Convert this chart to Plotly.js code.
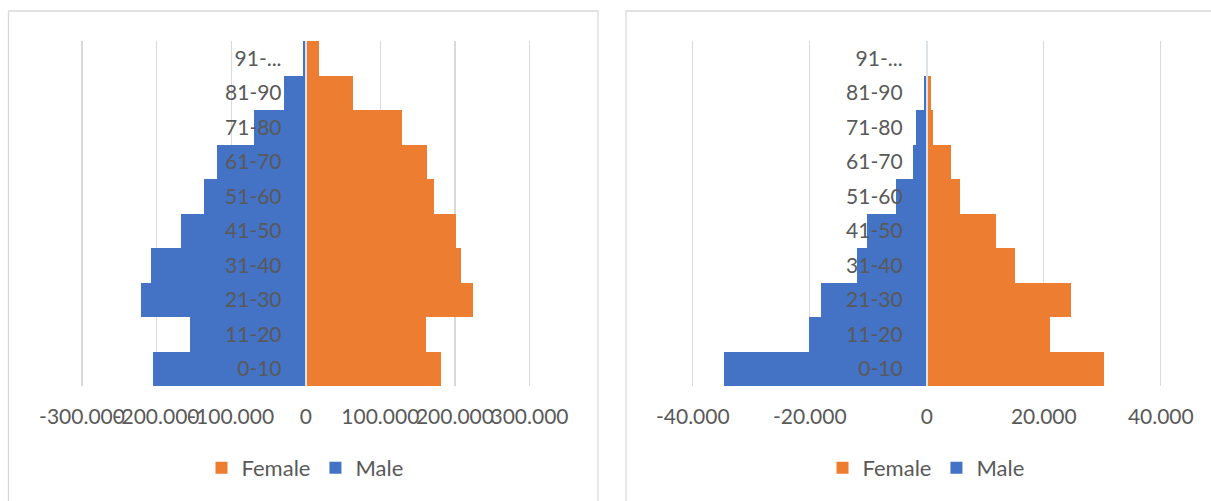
<!DOCTYPE html>
<html>
<head>
<meta charset="utf-8">
<script src="https://cdn.plot.ly/plotly-3.0.1.min.js"></script>
<style>
  html, body { margin: 0; padding: 0; background: #ffffff; }
  #chart { width: 1211px; height: 501px; }
</style>
</head>
<body>
<div id="chart"></div>
<script>
// Age groups, bottom to top
const ageGroups = ['0-10', '11-20', '21-30', '31-40', '41-50', '51-60', '61-70', '71-80', '81-90', '91-...'];

// Left pyramid: population per age group
const femaleLeft = [181500, 161500, 224500, 208000, 201500, 171500, 162500, 129000, 63500, 17400];
const maleLeft   = [204500, 155500, 221000, 207500, 167500, 136000, 119500, 70000, 28700, 3200];

// Right pyramid: population per age group
const femaleRight = [30300, 21000, 24600, 15100, 11900, 5600, 4200, 1000, 700, 0];
const maleRight   = [34600, 20100, 18000, 12000, 10300, 5300, 2400, 1800, 400, 0];

// Axis ticks (dot as thousands separator)
const leftTickVals  = [-300000, -200000, -100000, 0, 100000, 200000, 300000];
const leftTickText  = ['-300.000', '-200.000', '-100.000', '0', '100.000', '200.000', '300.000'];
const rightTickVals = [-40000, -20000, 0, 20000, 40000];
const rightTickText = ['-40.000', '-20.000', '0', '20.000', '40.000'];

const FEMALE_COLOR = '#ED7D31';
const MALE_COLOR = '#4472C4';
const TEXT_COLOR = '#595959';
const GRID_COLOR = '#d9d9d9';
const FONT = 'Lato, "Open Sans", sans-serif';

const neg = arr => arr.map(v => -v);

function barTrace(name, values, color, xa, ya, legendId) {
  return {
    type: 'bar',
    orientation: 'h',
    name: name,
    y: ageGroups,
    x: values,
    xaxis: xa,
    yaxis: ya,
    legend: legendId,
    width: 1,
    marker: { color: color, line: { width: 0 } },
    hoverinfo: 'skip'
  };
}

const traces = [
  barTrace('Female', femaleLeft, FEMALE_COLOR, 'x', 'y', 'legend'),
  barTrace('Male', neg(maleLeft), MALE_COLOR, 'x', 'y', 'legend'),
  barTrace('Female', femaleRight, FEMALE_COLOR, 'x2', 'y2', 'legend2'),
  barTrace('Male', neg(maleRight), MALE_COLOR, 'x2', 'y2', 'legend2')
];

const W = 1211, H = 501;
const px = v => v / W;
const py = v => (H - v) / H;

const plotTop = 41, plotBottom = 386;
const yDomain = [py(plotBottom), py(plotTop)];

// Plot areas widened by EDGE px on each side so the outermost
// gridlines sit inside the area and are not clipped away.
const EDGE = 3;
function axisSpan(left, right, lo, hi) {
  const perPx = (hi - lo) / (right - left);
  return {
    domain: [px(left - EDGE), px(right + EDGE)],
    range: [lo - perPx * EDGE, hi + perPx * EDGE],
    center: px((left + right) / 2)
  };
}
const leftSpan = axisSpan(82, 529.5, -300000, 300000);
const rightSpan = axisSpan(692.8, 1160.8, -40000, 40000);

function xAxis(span, vals, text, anchor) {
  return {
    domain: span.domain,
    range: span.range,
    anchor: anchor,
    tickmode: 'array',
    tickvals: vals,
    ticktext: text,
    tickangle: 0,
    ticks: '',
    showgrid: true,
    gridcolor: GRID_COLOR,
    gridwidth: 1.3,
    zeroline: false,
    showline: false,
    ticklabelstandoff: 16,
    tickfont: { family: FONT, size: 21, color: TEXT_COLOR },
    fixedrange: true
  };
}

function yAxis(span) {
  return {
    domain: yDomain,
    type: 'category',
    anchor: 'free',
    position: span.center,
    range: [-0.5, 9.5],
    showgrid: false,
    zeroline: false,
    showline: true,
    linecolor: '#dde3ec',
    linewidth: 2,
    ticks: '',
    ticklabelstandoff: 19,
    tickfont: { family: FONT, size: 21, color: TEXT_COLOR },
    fixedrange: true
  };
}

const legendBase = {
  orientation: 'h',
  xanchor: 'center',
  yanchor: 'middle',
  y: py(468),
  font: { family: FONT, size: 22, color: TEXT_COLOR },
  bgcolor: 'rgba(0,0,0,0)',
  itemclick: false,
  itemdoubleclick: false
};

const frameLine = { color: GRID_COLOR, width: 1.3 };

const layout = {
  width: W,
  height: H,
  margin: { l: 0, r: 0, t: 0, b: 0 },
  paper_bgcolor: '#ffffff',
  plot_bgcolor: 'rgba(0,0,0,0)',
  barmode: 'relative',
  bargap: 0,
  showlegend: true,
  xaxis: xAxis(leftSpan, leftTickVals, leftTickText, 'y'),
  yaxis: yAxis(leftSpan),
  xaxis2: xAxis(rightSpan, rightTickVals, rightTickText, 'y2'),
  yaxis2: yAxis(rightSpan),
  legend: Object.assign({}, legendBase, { x: px(305) }),
  legend2: Object.assign({}, legendBase, { x: px(926) }),
  shapes: [
    { type: 'rect', xref: 'paper', yref: 'paper', x0: px(8.5), x1: px(598), y0: -0.1, y1: py(11), line: frameLine, fillcolor: 'rgba(0,0,0,0)', layer: 'below' },
    { type: 'rect', xref: 'paper', yref: 'paper', x0: px(626), x1: 1.1, y0: -0.1, y1: py(11), line: frameLine, fillcolor: 'rgba(0,0,0,0)', layer: 'below' }
  ]
};

Plotly.newPlot('chart', traces, layout, { displayModeBar: false, staticPlot: true });
</script>
</body>
</html>
